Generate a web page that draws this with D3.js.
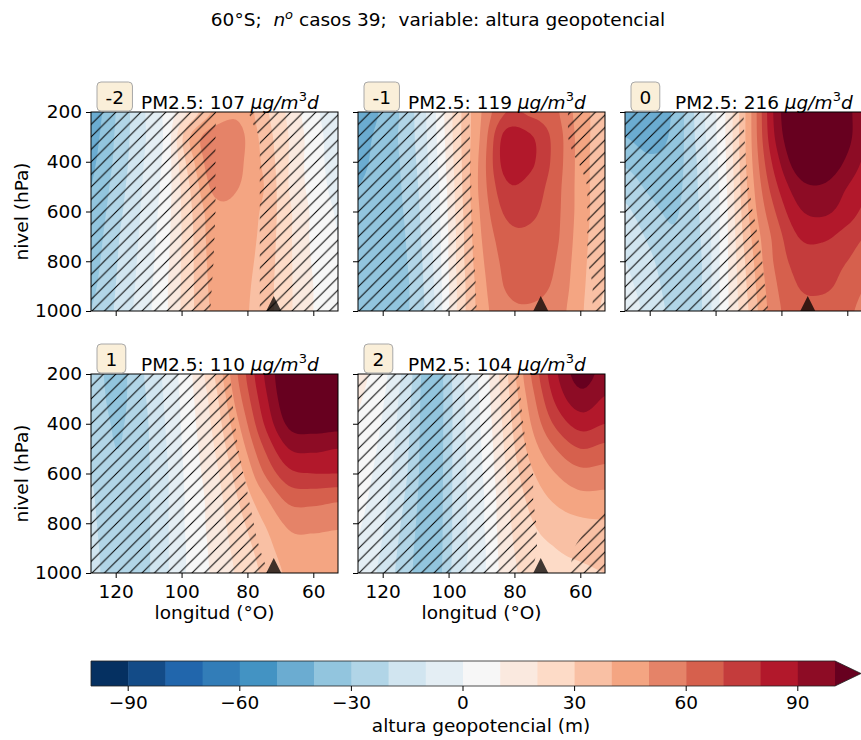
<!DOCTYPE html>
<html>
<head>
<meta charset="utf-8">
<script src="https://cdn.jsdelivr.net/npm/d3@7"></script>
<style>
  body { margin: 0; background: #fff; }
  svg text { font-family: "DejaVu Sans", sans-serif; fill: #000; }
</style>
</head>
<body>
<svg id="fig" width="861" height="740"></svg>
<script>
// ---- grid coordinates ----
const lon = [127.5, 120, 112.5, 105, 97.5, 90, 82.5, 75, 67.5, 60, 52.5];   // °O
const lev = [200, 300, 400, 500, 600, 700, 800, 900, 1000];                  // hPa

const casos = ["-2", "-1", "0", "1", "2"];
const pm25 = [107, 119, 216, 110, 104];

const lonTicks = [120, 100, 80, 60];
const levTicks = [200, 400, 600, 800, 1000];
const cbarTicks = [-90, -60, -30, 0, 30, 60, 90];
const levels = [-100, -90, -80, -70, -60, -50, -40, -30, -20, -10, 0, 10, 20, 30, 40, 50, 60, 70, 80, 90, 100];
const andesLon = 72;

// ---- geopotential height anomaly (m), rows = levels (200 -> 1000), cols = lon ----
const hgtM2 = [
  [-46, -30, -13,  2, 22, 42, 48, 33, 18,  3, -6],
  [-44, -29, -13,  2, 40, 56, 53, 36, 20,  5, -5],
  [-42, -28, -12,  3, 35, 57, 52, 38, 20,  5, -4],
  [-40, -26, -11,  4, 30, 53, 50, 40, 20,  6, -3],
  [-38, -24, -10,  5, 28, 46, 46, 38, 22,  8, -1],
  [-36, -22,  -9,  6, 27, 45, 45, 37, 22,  8,  0],
  [-34, -21,  -8,  7, 27, 44, 44, 36, 22,  9,  1],
  [-32, -20,  -7,  8, 27, 43, 43, 35, 22, 10,  2],
  [-30, -19,  -6,  8, 27, 42, 42, 35, 22, 10,  3]
];
const hgtM1 = [
  [-48, -38, -25,  -4, 25, 50, 70, 68, 62, 45, 35],
  [-44, -36, -25,  -5, 25, 52, 84, 81, 66, 46, 34],
  [-42, -36, -26,  -6, 24, 54, 85, 82, 66, 46, 33],
  [-40, -36, -27,  -8, 23, 54, 78, 76, 64, 46, 33],
  [-39, -36, -28,  -9, 22, 52, 72, 72, 63, 46, 33],
  [-38, -37, -29, -10, 21, 50, 66, 68, 62, 45, 32],
  [-38, -37, -30, -11, 21, 48, 63, 66, 60, 44, 31],
  [-38, -37, -31, -12, 20, 46, 61, 63, 58, 43, 30],
  [-38, -37, -31, -13, 20, 45, 57, 59, 55, 42, 28]
];
const hgt0 = [
  [-44, -47, -38, -15, 8, 45, 90, 115, 118, 103, 90],
  [-40, -44, -37, -16, 8, 45, 88, 112, 116, 103, 88],
  [-32, -38, -35, -18, 7, 44, 82, 106, 110, 98, 85],
  [-24, -32, -33, -19, 6, 42, 75,  96,  99, 90, 80],
  [-18, -27, -31, -20, 5, 40, 68,  88,  92, 85, 75],
  [-13, -22, -29, -21, 5, 37, 62,  80,  82, 76, 68],
  [-10, -18, -27, -22, 5, 34, 60,  74,  75, 70, 62],
  [ -8, -15, -25, -22, 5, 32, 57,  70,  72, 66, 58],
  [ -6, -13, -23, -22, 5, 30, 55,  66,  66, 62, 55]
];
const hgtP1 = [
  [-24, -34, -22,  -8, 8, 30, 62, 90, 110, 118, 115],
  [-23, -33, -23,  -9, 7, 26, 57, 86, 108, 114, 112],
  [-22, -31, -24, -10, 6, 23, 50, 80, 102, 105, 104],
  [-21, -30, -24, -11, 5, 20, 43, 70,  90,  92,  90],
  [-20, -29, -24, -12, 4, 17, 36, 60,  77,  80,  80],
  [-19, -28, -24, -12, 3, 15, 31, 48,  63,  64,  62],
  [-18, -28, -24, -12, 3, 14, 27, 40,  52,  53,  52],
  [-17, -27, -24, -12, 2, 13, 24, 35,  46,  47,  46],
  [-16, -27, -24, -12, 2, 12, 22, 32,  42,  45,  45]
];
const hgtP2 = [
  [13,   3, -15, -37, -15,  3, 28, 60, 88, 104, 96],
  [11,   1, -17, -37, -16,  2, 26, 55, 82,  96, 89],
  [ 9,  -1, -18, -37, -16,  1, 24, 50, 72,  84, 80],
  [ 7,  -3, -19, -37, -16,  0, 22, 44, 60,  70, 67],
  [ 5,  -5, -20, -37, -16, -1, 20, 38, 50,  57, 56],
  [ 3,  -7, -22, -37, -16, -2, 18, 33, 42,  47, 47],
  [ 1,  -9, -24, -37, -16, -2, 17, 29, 35,  38, 39],
  [-1, -11, -26, -37, -16, -3, 16, 26, 30,  32, 33],
  [-3, -13, -27, -37, -15, -3, 15, 24, 28,  29, 30]
];

// ---- non-significant fraction (hatched where > 0.5) ----
const maskM2 = [
  [1, 1, 1, 1, 1, 0.52, 0.2, 1,   1, 1, 1],
  [1, 1, 1, 1, 1, 0.52, 0,   0.6, 1, 1, 1],
  [1, 1, 1, 1, 1, 0.52, 0,   0.6, 1, 1, 1],
  [1, 1, 1, 1, 1, 0.52, 0,   0.6, 1, 1, 1],
  [1, 1, 1, 1, 1, 0.52, 0,   0.6, 1, 1, 1],
  [1, 1, 1, 1, 1, 0.5,  0,   0.6, 1, 1, 1],
  [1, 1, 1, 1, 1, 0.48, 0,   0.6, 1, 1, 1],
  [1, 1, 1, 1, 1, 0.44, 0,   0.6, 1, 1, 1],
  [1, 1, 1, 1, 1, 0.4,  0,   0.6, 1, 1, 1]
];
const maskM1 = [
  [1, 1, 1, 1, 1, 0,    0, 0, 0, 1,    1],
  [1, 1, 1, 1, 1, 0.05, 0, 0, 0, 1,    1],
  [1, 1, 1, 1, 1, 0.1,  0, 0, 0, 0.55, 1],
  [1, 1, 1, 1, 1, 0.15, 0, 0, 0, 0.3,  1],
  [1, 1, 1, 1, 1, 0.2,  0, 0, 0, 0.3,  1],
  [1, 1, 1, 1, 1, 0.25, 0, 0, 0, 0.3,  1],
  [1, 1, 1, 1, 1, 0.3,  0, 0, 0, 0.3,  1],
  [1, 1, 1, 1, 1, 0.35, 0, 0, 0, 0,    1],
  [1, 1, 1, 1, 1, 0.38, 0, 0, 0, 0,    1]
];
const mask0 = [
  [1, 1, 1, 1, 1, 0.37, 0,    0, 0, 0, 0],
  [1, 1, 1, 1, 1, 0.4,  0,    0, 0, 0, 0],
  [1, 1, 1, 1, 1, 0.45, 0,    0, 0, 0, 0],
  [1, 1, 1, 1, 1, 0.5,  0,    0, 0, 0, 0],
  [1, 1, 1, 1, 1, 0.6,  0,    0, 0, 0, 0],
  [1, 1, 1, 1, 1, 0.8,  0,    0, 0, 0, 0],
  [1, 1, 1, 1, 1, 1,    0.1,  0, 0, 0, 0],
  [1, 1, 1, 1, 1, 1,    0.25, 0, 0, 0, 0],
  [1, 1, 1, 1, 1, 1,    0.38, 0, 0, 0, 0]
];
const maskP1 = [
  [1, 1, 1, 1, 1, 1, 0.21, 0,    0, 0, 0],
  [1, 1, 1, 1, 1, 1, 0.3,  0,    0, 0, 0],
  [1, 1, 1, 1, 1, 1, 0.4,  0,    0, 0, 0],
  [1, 1, 1, 1, 1, 1, 0.48, 0,    0, 0, 0],
  [1, 1, 1, 1, 1, 1, 0.6,  0,    0, 0, 0],
  [1, 1, 1, 1, 1, 1, 0.8,  0,    0, 0, 0],
  [1, 1, 1, 1, 1, 1, 1,    0.15, 0, 0, 0],
  [1, 1, 1, 1, 1, 1, 1,    0.4,  0, 0, 0],
  [1, 1, 1, 1, 1, 1, 1,    0.6,  0, 0, 0]
];
const maskP2 = [
  [1, 1, 1, 1, 1, 1, 1, 0,    0,    0,    0],
  [1, 1, 1, 1, 1, 1, 1, 0.15, 0,    0,    0],
  [1, 1, 1, 1, 1, 1, 1, 0.28, 0,    0,    0],
  [1, 1, 1, 1, 1, 1, 1, 0.4,  0,    0,    0],
  [1, 1, 1, 1, 1, 1, 1, 0.55, 0,    0,    0],
  [1, 1, 1, 1, 1, 1, 1, 0.55, 0,    0.1,  0.3],
  [1, 1, 1, 1, 1, 1, 1, 0.6,  0.15, 0.35, 0.75],
  [1, 1, 1, 1, 1, 1, 1, 0.6,  0.2,  0.6,  1],
  [1, 1, 1, 1, 1, 1, 1, 0.5,  0.25, 0.7,  1]
];

const fields = [hgtM2, hgtM1, hgt0, hgtP1, hgtP2];
const masks = [maskM2, maskM1, mask0, maskP1, maskP2];

// ---- layout ----
const PW = 247, PH = 199;
const colX = [91, 358, 625];
const rowY = [112, 374];
const FS = 18.5;

// RdBu reversed, linear between the ColorBrewer anchors
const rdbuR = ["#053061", "#2166ac", "#4393c3", "#92c5de", "#d1e5f0", "#f7f7f7",
               "#fddbc7", "#f4a582", "#d6604d", "#b2182b", "#67001f"];
const cmap = d3.scaleLinear().domain(d3.range(rdbuR.length).map(i => i / (rdbuR.length - 1)))
  .range(rdbuR).interpolate(d3.interpolateRgb);
const nBins = levels.length - 1;
const binColors = d3.range(nBins + 1).map(k => cmap(k / nBins)); // last one = over

const svg = d3.select("#fig");
const defs = svg.append("defs");

// hatch pattern "/"
const HS = 12.5;
const pat = defs.append("pattern").attr("id", "hatch")
  .attr("patternUnits", "userSpaceOnUse").attr("width", HS).attr("height", HS);
pat.append("path")
  .attr("d", `M-1,1 L1,-1 M0,${HS} L${HS},0 M${HS - 1},${HS + 1} L${HS + 1},${HS - 1}`)
  .attr("stroke", "#000").attr("stroke-width", 1).attr("fill", "none");

const x = d3.scaleLinear().domain([lon[0], lon[lon.length - 1]]).range([0, PW]);
const y = d3.scaleLinear().domain([lev[0], lev[lev.length - 1]]).range([0, PH]);

// smooth resampling of a coarse grid (Catmull-Rom or bilinear)
const F = 8;
const nx = lon.length, ny = lev.length;
const gw = (nx - 1) * F + 1, gh = (ny - 1) * F + 1;
function cr(t) {
  const t2 = t * t, t3 = t2 * t;
  return [(-t3 + 2 * t2 - t) / 2, (3 * t3 - 5 * t2 + 2) / 2, (-3 * t3 + 4 * t2 + t) / 2, (t3 - t2) / 2];
}
function refine(grid, cubic) {
  const get = (i, j) => grid[Math.max(0, Math.min(ny - 1, j))][Math.max(0, Math.min(nx - 1, i))];
  const out = new Array(gw * gh);
  for (let J = 0; J < gh; J++) {
    const j0 = Math.min(ny - 2, Math.floor(J / F)), ty = J / F - j0;
    const wy = cr(ty);
    for (let I = 0; I < gw; I++) {
      const i0 = Math.min(nx - 2, Math.floor(I / F)), tx = I / F - i0;
      let v = 0;
      if (cubic) {
        const wx = cr(tx);
        for (let n = 0; n < 4; n++)
          for (let m = 0; m < 4; m++)
            v += wy[n] * wx[m] * get(i0 + m - 1, j0 + n - 1);
      } else {
        v = (1 - ty) * ((1 - tx) * get(i0, j0) + tx * get(i0 + 1, j0)) +
            ty * ((1 - tx) * get(i0, j0 + 1) + tx * get(i0 + 1, j0 + 1));
      }
      out[J * gw + I] = v;
    }
  }
  return out;
}

const contourGen = d3.contours().size([gw, gh]);
const toPx = d3.geoTransform({
  point(px, py) {
    const gi = (px - 0.5) / F, gj = (py - 0.5) / F;
    this.stream.point(x(lon[0] + gi * (lon[1] - lon[0])), y(lev[0] + gj * (lev[1] - lev[0])));
  }
});
const path = d3.geoPath(toPx);

const fillThresholds = [-1e6].concat(levels.slice(1));   // region >= threshold

function fmtNum(v) { return v < 0 ? "\u2212" + Math.abs(v) : String(v); }

casos.forEach((caso, p) => {
  const r = p < 3 ? 0 : 1, c = p < 3 ? p : p - 3;
  const ox = colX[c], oy = rowY[r];
  const g = svg.append("g").attr("transform", `translate(${ox},${oy})`);

  defs.append("clipPath").attr("id", "clip" + p)
    .append("rect").attr("width", PW).attr("height", PH);

  const plot = g.append("g").attr("clip-path", `url(#clip${p})`);
  const vals = refine(fields[p], true);
  fillThresholds.forEach((t, k) => {
    plot.append("path")
      .attr("d", path(contourGen.contour(vals, t)))
      .attr("fill", binColors[k]);
  });
  const mv = refine(masks[p], false);
  plot.append("path")
    .attr("d", path(contourGen.contour(mv, 0.5)))
    .attr("fill", "url(#hatch)");

  // Andes marker
  const ax = x(andesLon), ay = y(1000);
  plot.append("path")
    .attr("d", `M${ax},${ay - 15} L${ax + 7.5},${ay} L${ax - 7.5},${ay} Z`)
    .attr("fill", "#000").attr("fill-opacity", 0.75);

  // frame
  g.append("rect").attr("width", PW).attr("height", PH)
    .attr("fill", "none").attr("stroke", "#000").attr("stroke-width", 1);

  // axes
  const xa = g.append("g").attr("transform", `translate(0,${PH})`)
    .call(d3.axisBottom(x).tickValues(lonTicks).tickSize(5).tickPadding(7)
      .tickFormat(r === 1 ? d3.format("d") : () => ""));
  const ya = g.append("g")
    .call(d3.axisLeft(y).tickValues(levTicks).tickSize(5).tickPadding(4)
      .tickFormat(c === 0 ? d3.format("d") : () => ""));
  [xa, ya].forEach(a => {
    a.select(".domain").remove();
    a.selectAll("line").attr("stroke", "#000");
    a.selectAll("text").style("font-family", "DejaVu Sans").style("font-size", FS + "px").attr("fill", "#000");
  });

  if (r === 1) {
    g.append("text").attr("x", PW / 2).attr("y", PH + 46).attr("text-anchor", "middle")
      .style("font-size", FS + "px").text("longitud (°O)");
  }
  if (c === 0) {
    g.append("text").attr("transform", `translate(${28 - ox},${PH / 2}) rotate(-90)`)
      .attr("text-anchor", "middle").style("font-size", FS + "px").text("nivel (hPa)");
  }

  // panel title
  const tt = g.append("text").attr("x", 50).attr("y", -3).style("font-size", FS + "px");
  tt.append("tspan").text(`PM2.5: ${pm25[p]} `);
  tt.append("tspan").style("font-style", "italic").text("μg/m");
  tt.append("tspan").attr("dy", -8).style("font-size", "13px").text("3");
  tt.append("tspan").attr("dy", 8).style("font-style", "italic").text("d");

  // case label box
  const lb = g.append("g");
  const lt = lb.append("text").attr("y", -8).style("font-size", FS + "px").text(caso);
  const tw = lt.node().getComputedTextLength();
  const padX = 8.5;
  lb.insert("rect", "text")
    .attr("x", 6).attr("y", -30).attr("width", tw + 2 * padX).attr("height", 29)
    .attr("rx", 4).attr("fill", "#faefd9").attr("stroke", "#a8a8a8").attr("stroke-width", 1);
  lt.attr("x", 6 + padX);
});

// ---- suptitle ----
const st = svg.append("text").attr("x", 438).attr("y", 26).attr("text-anchor", "middle")
  .style("font-size", FS + "px").style("white-space", "pre");
st.append("tspan").text("60°S;  ");
st.append("tspan").style("font-style", "italic").text("n");
st.append("tspan").attr("dy", -7).style("font-size", "13px").style("font-style", "italic").text("o");
st.append("tspan").attr("dy", 7).text(" casos 39;  variable: altura geopotencial");

// ---- colorbar ----
const cb = d3.scaleLinear().domain([levels[0], levels[levels.length - 1]]).range([91, 835]);
const cbY = 661, cbH = 25, cbTip = 861;
const cbg = svg.append("g");
d3.range(nBins).forEach(k => {
  cbg.append("rect").attr("x", cb(levels[k])).attr("y", cbY)
    .attr("width", cb(levels[k + 1]) - cb(levels[k]) + 0.5).attr("height", cbH)
    .attr("fill", binColors[k]);
});
cbg.append("path")
  .attr("d", `M${cb(100)},${cbY} L${cbTip},${cbY + cbH / 2} L${cb(100)},${cbY + cbH} Z`)
  .attr("fill", binColors[nBins]);
cbg.append("path")
  .attr("d", `M${cb(-100)},${cbY} L${cb(100)},${cbY} L${cbTip},${cbY + cbH / 2} L${cb(100)},${cbY + cbH} L${cb(-100)},${cbY + cbH} Z`)
  .attr("fill", "none").attr("stroke", "#222").attr("stroke-width", 0.8);
cbarTicks.forEach(v => {
  cbg.append("line").attr("x1", cb(v)).attr("x2", cb(v)).attr("y1", cbY + cbH).attr("y2", cbY + cbH + 5)
    .attr("stroke", "#000");
  cbg.append("text").attr("x", cb(v)).attr("y", cbY + cbH + 23).attr("text-anchor", "middle")
    .style("font-size", FS + "px").text(fmtNum(v));
});
svg.append("text").attr("x", 481).attr("y", 732).attr("text-anchor", "middle")
  .style("font-size", FS + "px").text("altura geopotencial (m)");
</script>
</body>
</html>
